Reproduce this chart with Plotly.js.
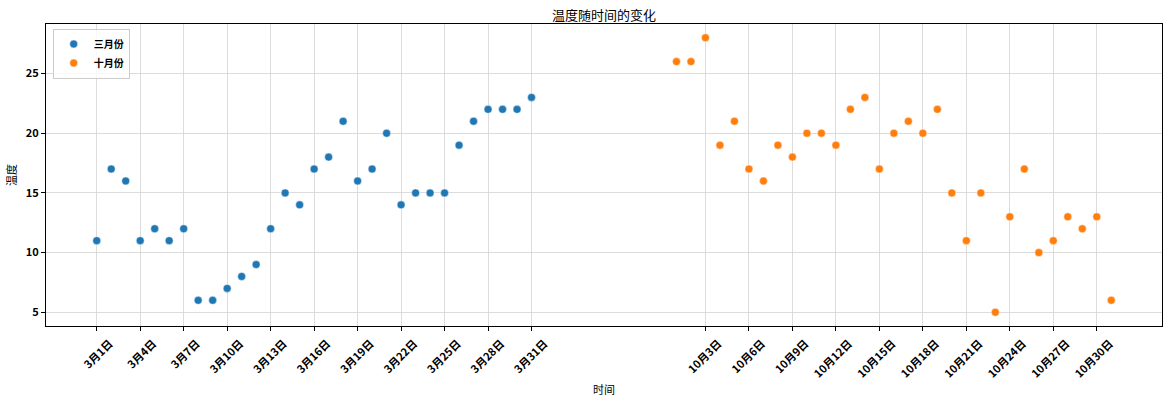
<!DOCTYPE html>
<html>
<head>
<meta charset="utf-8">
<script src="https://cdn.plot.ly/plotly-3.0.1.min.js"></script>
<style>html,body{margin:0;padding:0;background:#fff;}#chart{width:1169px;height:402px;}</style>
</head>
<body>
<div id="chart"></div>
<script>
// Data
const marchDays = Array.from({length: 31}, (_, i) => i + 1);
const octoberDays = Array.from({length: 31}, (_, i) => i + 1);
const marchTemps = [11, 17, 16, 11, 12, 11, 12, 6, 6, 7, 8, 9, 12, 15, 14, 17, 18, 21, 16, 17, 20, 14, 15, 15, 15, 19, 21, 22, 22, 22, 23];
const octoberTemps = [26, 26, 28, 19, 21, 17, 16, 19, 18, 20, 20, 19, 22, 23, 17, 20, 21, 20, 22, 15, 11, 15, 5, 13, 17, 10, 11, 13, 12, 13, 6];
const marchLabels = marchDays.map(d => '3月' + d + '日');
const octoberLabels = octoberDays.map(d => '10月' + d + '日');
const seriesNames = ['三月份', '十月份'];

// positions: March at 0..30, October after a gap of 9 slots
const marchX = marchDays.map(d => d - 1);
const octoberX = octoberDays.map(d => d + 39);
const allX = marchX.concat(octoberX);
const allLabels = marchLabels.concat(octoberLabels);
const tickVals = allX.filter((_, i) => i % 3 === 0);
const tickText = allLabels.filter((_, i) => i % 3 === 0);

const FONT = '"Noto Sans CJK SC", "Noto Sans", sans-serif';

const traces = [
  {x: marchX, y: marchTemps, name: seriesNames[0], mode: 'markers', type: 'scatter',
   marker: {color: '#1f77b4', size: 8, line: {color: '#ffffff', width: 0.5}}},
  {x: octoberX, y: octoberTemps, name: seriesNames[1], mode: 'markers', type: 'scatter',
   marker: {color: '#ff7f0e', size: 8, line: {color: '#ffffff', width: 0.5}}}
];

const layout = {
  width: 1169, height: 402,
  margin: {l: 46, r: 7, t: 24, b: 76},
  paper_bgcolor: '#ffffff', plot_bgcolor: '#ffffff',
  font: {family: FONT, color: '#000000', size: 11},
  title: {text: '温度随时间的变化', x: 0.5, xref: 'paper', y: 0.962, yanchor: 'middle',
          font: {family: FONT, size: 13, color: '#000'}},
  showlegend: true,
  legend: {x: 0.006, y: 0.985, xanchor: 'left', yanchor: 'top',
           bgcolor: 'rgba(255,255,255,0.8)', bordercolor: '#cccccc', borderwidth: 1,
           font: {family: FONT, size: 10, color: '#000', weight: 'bold'},
           itemwidth: 30, tracegroupgap: 2},
  xaxis: {
    range: [-3.5, 73.5], tickmode: 'array', tickvals: tickVals, ticktext: tickText,
    tickangle: -45, ticks: 'outside', ticklen: 4, tickcolor: '#000', tickwidth: 1,
    ticklabelshift: 13, ticklabelstandoff: 2,
    tickfont: {family: FONT, size: 11, color: '#000', weight: 'bold'},
    showgrid: true, gridcolor: '#d3d3d3', gridwidth: 0.8,
    showline: true, linecolor: '#000', linewidth: 1, mirror: true, zeroline: false,
    title: {text: '时间', font: {family: FONT, size: 11, color: '#000'}, standoff: 6}
  },
  yaxis: {
    range: [3.85, 29.15], tickmode: 'array', tickvals: [5, 10, 15, 20, 25],
    ticks: 'outside', ticklen: 4, tickcolor: '#000', tickwidth: 1,
    tickfont: {family: FONT, size: 11, color: '#000', weight: 'bold'},
    showgrid: true, gridcolor: '#d3d3d3', gridwidth: 0.8,
    showline: true, linecolor: '#000', linewidth: 1, mirror: true, zeroline: false,
    title: {text: '温度', font: {family: FONT, size: 11, color: '#000'}, standoff: 6}
  }
};

Plotly.newPlot('chart', traces, layout, {displayModeBar: false, staticPlot: true});
</script>
</body>
</html>
